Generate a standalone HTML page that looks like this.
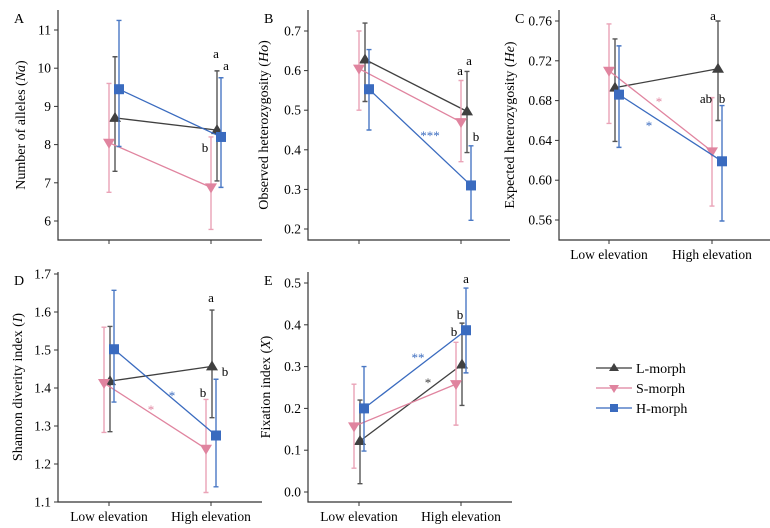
<!DOCTYPE html>
<html><head><meta charset="utf-8"><style>
body{margin:0;background:#fff}
svg{display:block;font-family:"Liberation Serif",serif}
</style></head><body>
<svg id="c" width="770" height="528" viewBox="0 0 770 528" xmlns="http://www.w3.org/2000/svg"></svg>
<script>
const categories=["Low elevation","High elevation"];
const seriesNames=["L-morph","S-morph","H-morph"];
// mean, lower, upper per [series][category]
const dataA=[[[8.7,7.3,10.3],[8.38,7.05,9.93]],[[8.05,6.75,9.6],[6.88,5.78,8.2]],[[9.45,7.95,11.25],[8.2,6.88,9.75]]];
const dataB=[[[0.628,0.522,0.72],[0.497,0.393,0.598]],[[0.605,0.5,0.7],[0.47,0.37,0.575]],[[0.553,0.45,0.653],[0.31,0.222,0.41]]];
const dataC=[[[0.693,0.639,0.742],[0.712,0.66,0.76]],[[0.71,0.657,0.757],[0.629,0.574,0.683]],[[0.686,0.633,0.735],[0.619,0.559,0.675]]];
const dataD=[[[1.418,1.285,1.562],[1.457,1.322,1.605]],[[1.413,1.283,1.56],[1.24,1.125,1.37]],[[1.502,1.363,1.657],[1.275,1.14,1.423]]];
const dataE=[[[0.122,0.02,0.22],[0.305,0.207,0.404]],[[0.157,0.057,0.258],[0.258,0.16,0.358]],[[0.2,0.098,0.3],[0.387,0.285,0.488]]];
const ticksA=["6","7","8","9","10","11"];
const ticksB=["0.2","0.3","0.4","0.5","0.6","0.7"];
const ticksC=["0.56","0.60","0.64","0.68","0.72","0.76"];
const ticksD=["1.1","1.2","1.3","1.4","1.5","1.6","1.7"];
const ticksE=["0.0","0.1","0.2","0.3","0.4","0.5"];

const NS="http://www.w3.org/2000/svg";
const svg=document.getElementById('c');
const lineC=["#404040","#e0849f","#3a6bbf"];
const barC=["#555555","#eaa3b7","#4a78c4"];
function mk(tag,at,parent){const e=document.createElementNS(NS,tag);for(const k in at)e.setAttribute(k,at[k]);(parent||svg).appendChild(e);return e;}
function txt(s,at,parent){const e=mk('text',at,parent);e.textContent=s;return e;}

const panels=[
 {key:'A',data:dataA,ticks:ticksA,ax:58,x1:262,top:10,bot:240,v0:6,v1:11,p0:221,p1:30,tk:[109,211],off:[6,0,10],title:'Number of alleles (',ti:'Na',tx:25,xl:false,
  notes:[['a',216,58,'#000'],['a',226,70,'#000'],['b',205,152,'#000']]},
 {key:'B',data:dataB,ticks:ticksB,ax:308,x1:510,top:10,bot:240,v0:0.2,v1:0.7,p0:229,p1:31,tk:[359,461],off:[6,0,10],title:'Observed heterozygosity (',ti:'Ho',tx:268,xl:false,
  notes:[['a',460,75,'#000'],['a',469,65,'#000'],['b',476,141,'#000'],['***',430,140,'#3a6bbf']]},
 {key:'C',data:dataC,ticks:ticksC,ax:559,x1:770,top:10,bot:240,v0:0.56,v1:0.76,p0:220,p1:21,tk:[609,712],off:[6,0,10],title:'Expected heterozygosity (',ti:'He',tx:514,xl:true,
  notes:[['a',713,20,'#000'],['ab',706,103,'#000'],['b',722,103,'#000'],['*',659,106,'#e0849f'],['*',649,130,'#3a6bbf']]},
 {key:'D',data:dataD,ticks:ticksD,ax:58,x1:262,top:272,bot:502,v0:1.1,v1:1.7,p0:502,p1:274,tk:[109,211],off:[1,-5,5],title:'Shannon diverity index (',ti:'I',tx:22,xl:true,
  notes:[['a',211,302,'#000'],['b',225,376,'#000'],['b',203,397,'#000'],['*',172,400,'#3a6bbf'],['*',151,414,'#e0849f']]},
 {key:'E',data:dataE,ticks:ticksE,ax:308,x1:512,top:272,bot:502,v0:0,v1:0.5,p0:492,p1:283,tk:[359,461],off:[1,-5,5],title:'Fixation index (',ti:'X',tx:270,xl:true,
  notes:[['a',466,283,'#000'],['b',460,319,'#000'],['b',454,336,'#000'],['**',418,362,'#3a6bbf'],['*',428,387,'#404040']]}
];

panels.forEach(P=>{
 const g=mk('g',{});
 
 
 const y=v=>P.p0+(v-P.v0)/(P.v1-P.v0)*(P.p1-P.p0);
 const ax=mk('path',{d:`M${P.ax},${P.top}V${P.bot}H${P.x1}`,stroke:'#333',fill:'none','stroke-width':1.2},g);
  
 const lab=txt(P.key,{x:P.ax-44,y:P.top+13,'font-size':14},g);
  
 const n=P.ticks.length;
 P.ticks.forEach((t,i)=>{
  const v=P.v0+(P.v1-P.v0)*i/(n-1); const yy=y(v);
  mk('line',{x1:P.ax-4,x2:P.ax,y1:yy,y2:yy,stroke:'#333'},g);
  const tl=txt(t,{x:P.ax-7,y:yy+4.5,'font-size':13.5,'text-anchor':'end'},g);
   
 });
 P.tk.forEach((x,i)=>{
  mk('line',{x1:x,x2:x,y1:P.bot,y2:P.bot+4,stroke:'#333'},g);
  if(P.xl){const xl=txt(categories[i],{x:x,y:P.bot+19,'font-size':13.5,'text-anchor':'middle'},g);
    }
 });
 const cy=(P.top+P.bot)/2;
 const tt=txt('',{transform:`translate(${P.tx},${cy}) rotate(-90)`,'font-size':14,'text-anchor':'middle'},g);
  
 tt.appendChild(document.createTextNode(P.title));
 const it=document.createElementNS(NS,'tspan');it.setAttribute('font-style','italic');it.textContent=P.ti;tt.appendChild(it);
 tt.appendChild(document.createTextNode(')'));
 P.data.forEach((s,si)=>{
  const xs=P.tk.map(t=>t+P.off[si]);
  s.forEach((d,ci)=>{
   const x=xs[ci];
   const eb=mk('path',{d:`M${x},${y(d[1])}V${y(d[2])}M${x-2.5},${y(d[1])}H${x+2.5}M${x-2.5},${y(d[2])}H${x+2.5}`,stroke:barC[si],'stroke-width':1.4,fill:'none'},g);
    
  });
  const ln=mk('line',{x1:xs[0],y1:y(s[0][0]),x2:xs[1],y2:y(s[1][0]),stroke:lineC[si],'stroke-width':1.3},g);
   
  s.forEach((d,ci)=>{
   const x=xs[ci],yy=y(d[0]);let m;
   if(si===0)m=mk('path',{d:`M${x},${yy-6}L${x+6},${yy+4}L${x-6},${yy+4}Z`,fill:lineC[0]},g);
   else if(si===1)m=mk('path',{d:`M${x-6},${yy-4}L${x+6},${yy-4}L${x},${yy+6}Z`,fill:lineC[1]},g);
   else m=mk('rect',{x:x-5,y:yy-5,width:10,height:10,fill:lineC[2]},g);
    
  });
 });
 P.notes.forEach(nt=>{
  const e=txt(nt[0],{x:nt[1],y:nt[2],'font-size':nt[0].includes('*')?13:13,'text-anchor':'middle',fill:nt[3]},g);
   
 });
});

const lg=mk('g',{});
 
seriesNames.forEach((s,i)=>{
 const yy=368+i*20, x=614;
 const le=mk('g',{},lg);
  
 mk('line',{x1:596,x2:632,y1:yy,y2:yy,stroke:lineC[i],'stroke-width':1.5,opacity:0.85},le);
 if(i===0)mk('path',{d:`M${x},${yy-5}L${x+5},${yy+3}L${x-5},${yy+3}Z`,fill:lineC[0]},le);
 else if(i===1)mk('path',{d:`M${x-5},${yy-3}L${x+5},${yy-3}L${x},${yy+5}Z`,fill:lineC[1]},le);
 else mk('rect',{x:x-4,y:yy-4,width:8,height:8,fill:lineC[2]},le);
 txt(s,{x:636,y:yy+5,'font-size':14},le);
});
</script>
</body></html>
